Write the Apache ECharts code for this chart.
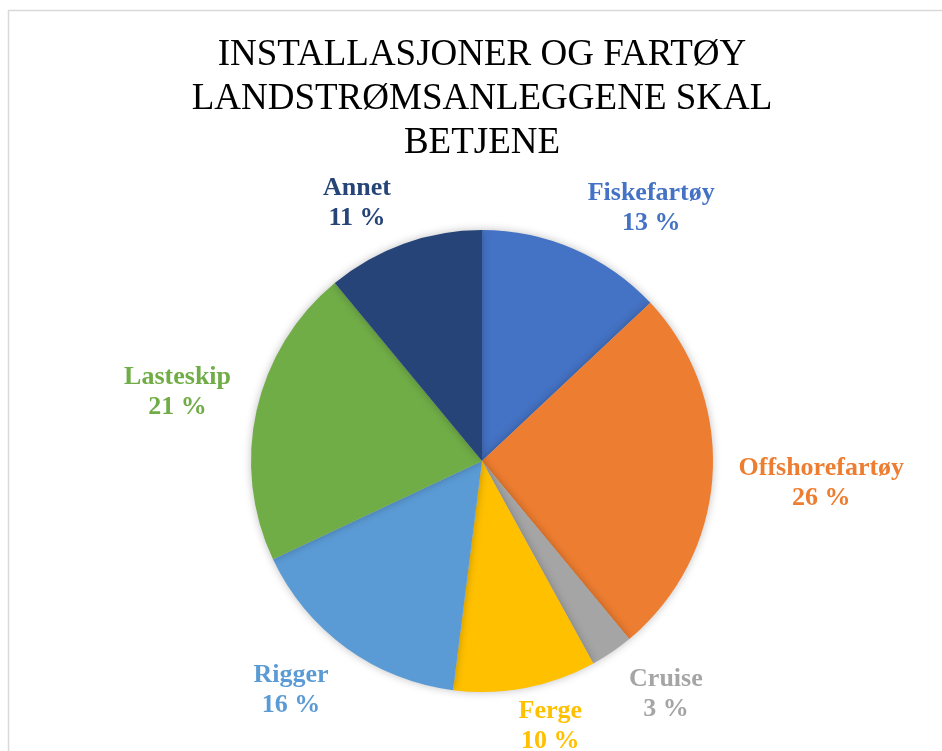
<!DOCTYPE html>
<html>
<head>
<meta charset="utf-8">
<script src="https://cdn.jsdelivr.net/npm/echarts@6/dist/echarts.min.js"></script>
<style>html,body{margin:0;padding:0;background:#fff}#c{width:942px;height:751px}</style>
</head>
<body>
<div id="c"></div>
<script>
const titleText = 'INSTALLASJONER OG FARTØY\nLANDSTRØMSANLEGGENE SKAL\nBETJENE';
const categories = ['Fiskefartøy', 'Offshorefartøy', 'Cruise', 'Ferge', 'Rigger', 'Lasteskip', 'Annet'];
const values = [13, 26, 3, 10, 16, 21, 11];
const colors = ['#4472C4', '#ED7D31', '#A5A5A5', '#FFC000', '#5B9BD5', '#70AD47', '#264478'];

const cx = 482, cy = 461, R = 231, gap = 20;
const total = values.reduce((a, b) => a + b, 0);
let cum = 0;
const mids = values.map(v => { const m = (cum + v / 2) / total * 2 * Math.PI; cum += v; return m; });
const clamp = v => Math.max(-1, Math.min(1, v));

const chart = echarts.init(document.getElementById('c'), null, {renderer: 'canvas'});
chart.setOption({
  animation: false,
  backgroundColor: '#fff',
  graphic: [{
    type: 'rect', shape: {x: 8.5, y: 10.5, width: 1200, height: 1200},
    style: {fill: 'none', stroke: '#d9d9d9', lineWidth: 1.5}, silent: true
  }, {
    type: 'text', x: 482, y: 33, silent: true,
    style: {
      text: titleText, fill: '#000', align: 'center', verticalAlign: 'top',
      fontFamily: 'Liberation Serif', fontSize: 37, fontWeight: 'normal', lineHeight: 44
    }
  }],
  series: [{
    type: 'pie',
    center: [cx, cy],
    radius: R,
    startAngle: 90,
    clockwise: true,
    data: categories.map((n, i) => ({name: n, value: values[i], itemStyle: {color: colors[i]}, label: {color: colors[i]}})),
    itemStyle: {borderWidth: 0, shadowBlur: 8, shadowColor: 'rgba(0,0,0,0.25)'},
    label: {
      show: true, position: 'outside', formatter: '{b}\n{c} %',
      fontFamily: 'Liberation Serif', fontWeight: 'bold', fontSize: 26, lineHeight: 30
    },
    labelLine: {show: false, length: 10, length2: 0},
    labelLayout: function (p) {
      const a = mids[p.dataIndex];
      const ux = Math.sin(a), uy = -Math.cos(a);
      const w = p.labelRect.width, h = p.labelRect.height;
      const px = cx + ux * (R + gap), py = cy + uy * (R + gap);
      let x = px + clamp(3 * ux) * (w / 2 + 6);
      let y = py + clamp(3 * uy) * (h / 2 - 6) + 2;
      if (y + h / 2 > 756) y = 756 - h / 2;
      return {x: x, y: y, align: 'center', verticalAlign: 'middle'};
    }
  }]
});
</script>
</body>
</html>
